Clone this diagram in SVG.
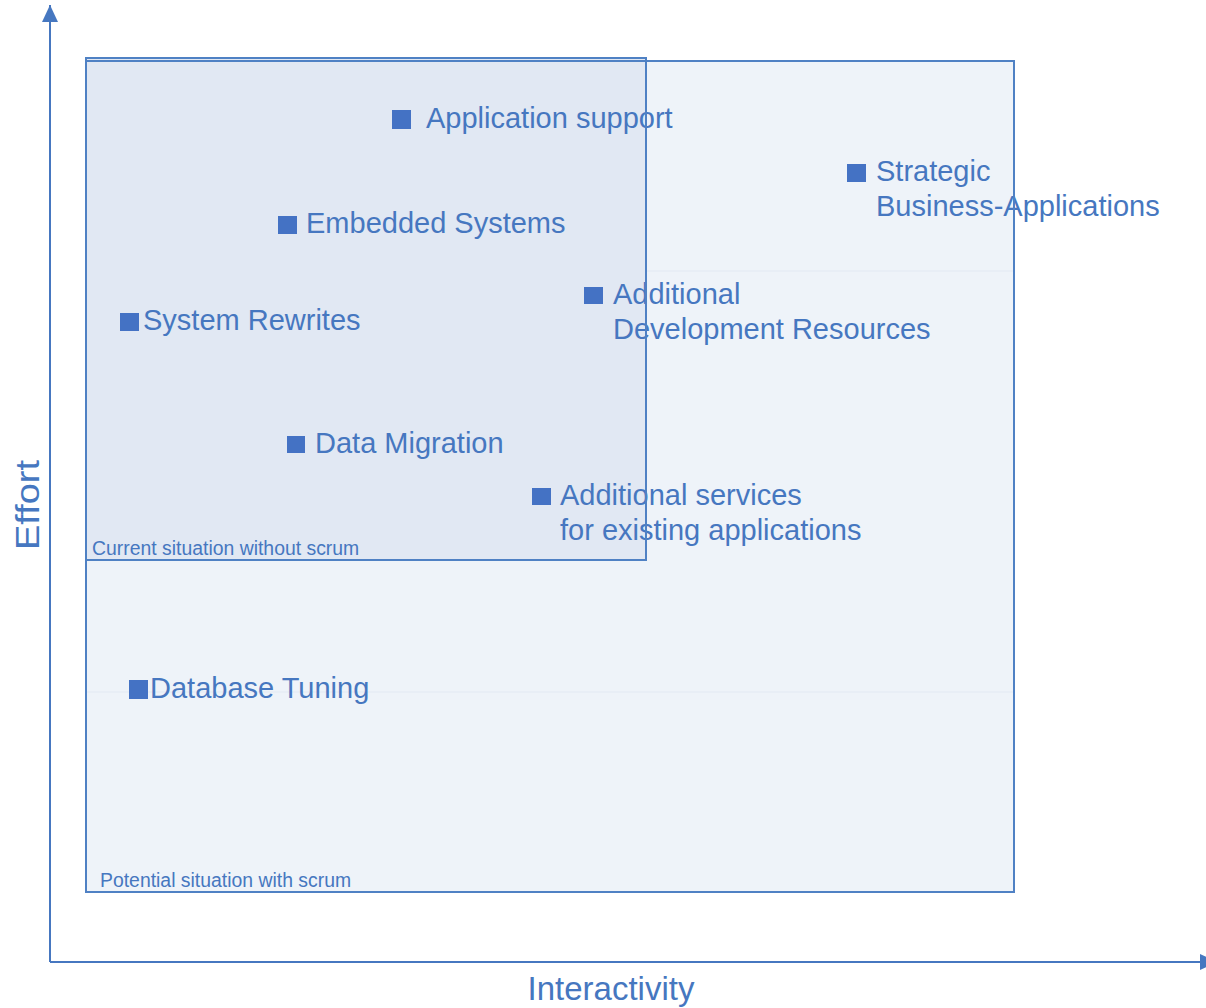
<svg xmlns="http://www.w3.org/2000/svg" width="1206" height="1008" viewBox="0 0 1206 1008">
<defs>
<style>
.lbl{font-family:"Liberation Sans",Arial,sans-serif;font-size:29px;fill:#4677c0}
.sm{font-family:"Liberation Sans",Arial,sans-serif;font-size:19.4px;fill:#4677c0}
.ax{font-family:"Liberation Sans",Arial,sans-serif;font-size:33px;fill:#4677c0}
.mk{fill:#4472c4}
.frame{fill:none;stroke:#4f81c4;stroke-width:2}
.axis{stroke:#4677c0;stroke-width:2;fill:none}
.grid{stroke:#e6ecf4;stroke-width:1.5}
</style>
<marker id="arrY" viewBox="0 0 17 16" refX="17" refY="8" markerWidth="17" markerHeight="16" markerUnits="userSpaceOnUse" orient="auto">
<path d="M0,0 L17,8 L0,16 z" fill="#4677c0"/>
</marker>
</defs>
<rect width="1206" height="1008" fill="#ffffff"/>
<g id="potential-area">
<rect x="86" y="61" width="928" height="831" fill="#eef3f9"/>
</g>
<line class="grid" x1="646" y1="271" x2="1013" y2="271"/>
<line class="grid" x1="87" y1="692" x2="1013" y2="692"/>
<g id="current-area">
<rect x="86" y="58" width="560" height="502" fill="#e1e8f3"/>
</g>
<g id="connectors">
<line class="axis" x1="50" y1="962" x2="50" y2="5" marker-end="url(#arrY)"/>
<line class="axis" x1="50" y1="962" x2="1217" y2="962" marker-end="url(#arrY)"/>
</g>
<g id="n-application-support">
<rect class="mk" x="392" y="110" width="19" height="19"/>
<text class="lbl" x="426" y="128">Application support</text>
</g>
<g id="n-strategic">
<rect class="mk" x="847" y="164" width="19" height="18"/>
<text class="lbl" x="876" y="181">Strategic</text>
<text class="lbl" x="876" y="216">Business-Applications</text>
</g>
<g id="n-embedded">
<rect class="mk" x="278" y="216" width="19" height="18"/>
<text class="lbl" x="306" y="233">Embedded Systems</text>
</g>
<g id="n-additional-dev">
<rect class="mk" x="584" y="287" width="19" height="17"/>
<text class="lbl" x="613" y="304">Additional</text>
<text class="lbl" x="613" y="339">Development Resources</text>
</g>
<g id="n-system-rewrites">
<rect class="mk" x="120" y="313" width="19" height="18"/>
<text class="lbl" x="143" y="330">System Rewrites</text>
</g>
<g id="n-data-migration">
<rect class="mk" x="287" y="436" width="18" height="17"/>
<text class="lbl" x="315" y="453">Data Migration</text>
</g>
<g id="n-additional-services">
<rect class="mk" x="532" y="488" width="19" height="17"/>
<text class="lbl" x="560" y="505">Additional services</text>
<text class="lbl" x="560" y="540">for existing applications</text>
</g>
<g id="n-database-tuning">
<rect class="mk" x="129" y="680" width="19" height="19"/>
<text class="lbl" x="150" y="698">Database Tuning</text>
</g>
<g id="frames">
<rect class="frame" x="86" y="61" width="928" height="831"/>
<rect class="frame" x="86" y="58" width="560" height="502"/>
<text class="sm" x="92" y="555">Current situation without scrum</text>
<text class="sm" x="100" y="887">Potential situation with scrum</text>
</g>
<g id="axis-labels">
<text class="ax" x="611" y="1000" text-anchor="middle">Interactivity</text>
<text class="ax" transform="translate(39,505) rotate(-90)" text-anchor="middle" font-size="36" textLength="90" lengthAdjust="spacingAndGlyphs">Effort</text>
</g>
</svg>
